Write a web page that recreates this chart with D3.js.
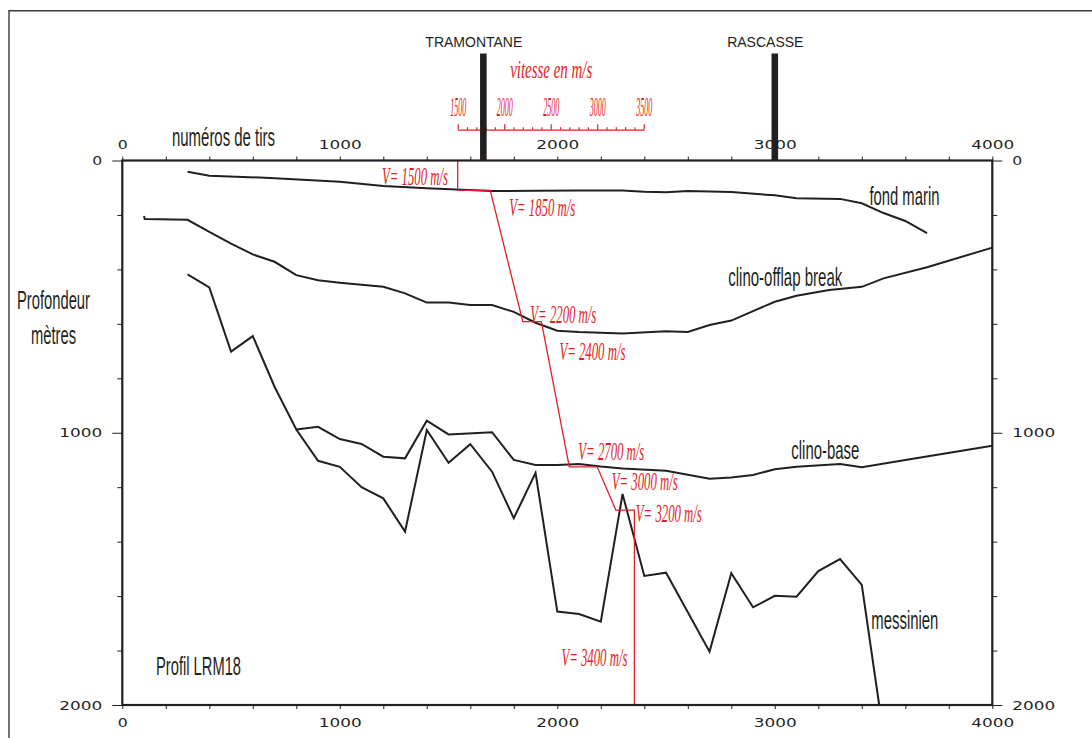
<!DOCTYPE html>
<html>
<head>
<meta charset="utf-8">
<script src="https://cdn.jsdelivr.net/npm/d3@7"></script>
<style>
  body { margin: 0; background: #fff; }
  svg { display: block; }
</style>
</head>
<body>
<svg id="chart" width="1092" height="738"></svg>
<script>
// ---- Axis ticks ----
const shotTicks = d3.range(0, 4001, 200);
const shotLabels = [0, 1000, 2000, 3000, 4000];
const depthTicks = d3.range(0, 2001, 200);
const depthLabels = [0, 1000, 2000];
const velTicks = d3.range(1500, 3501, 100);
const velLabels = [1500, 2000, 2500, 3000, 3500];

// ---- Horizons picked along the profile: [shot number, depth (m)] ----
const fondMarin = [[300,41],[400,56],[680,64],[1000,78],[1200,94],[1400,102],[1700,112],[1900,111],[2100,110],[2300,110],[2400,115],[2500,117],[2600,112],[2800,116],[3000,128],[3100,139],[3300,141],[3400,157],[3500,193],[3600,222],[3700,267]];
const clinoOfflap = [[100,204],[103,215],[300,218],[400,262],[500,305],[600,345],[700,372],[800,421],[900,440],[1000,449],[1200,464],[1300,488],[1400,522],[1500,522],[1600,531],[1700,531],[1800,556],[1900,596],[2000,625],[2100,630],[2300,635],[2500,627],[2600,630],[2700,604],[2800,588],[2900,553],[3000,519],[3100,497],[3250,476],[3400,464],[3500,433],[3700,392],[4000,320]];
const clinoBase = [[800,988],[900,978],[1000,1023],[1100,1041],[1200,1088],[1300,1094],[1400,956],[1500,1006],[1700,998],[1800,1100],[1900,1118],[2000,1118],[2100,1115],[2200,1124],[2300,1131],[2500,1140],[2700,1169],[2800,1164],[2900,1155],[3000,1134],[3100,1125],[3300,1115],[3400,1127],[3600,1100],[4000,1048]];
const messinien = [[300,418],[400,466],[500,702],[600,645],[700,831],[800,988],[900,1103],[1000,1125],[1100,1200],[1200,1241],[1300,1363],[1400,990],[1500,1110],[1600,1042],[1700,1143],[1800,1314],[1900,1147],[2000,1657],[2100,1666],[2200,1694],[2300,1225],[2400,1526],[2500,1514],[2700,1804],[2800,1516],[2900,1641],[3000,1599],[3100,1602],[3200,1508],[3300,1464],[3400,1559],[3480,2000]];

// ---- Interval velocity model: [velocity (m/s), depth (m)] ----
const velProfile = [[1500,0],[1500,110],[1850,110],[2200,592],[2400,592],[2700,1125],[3000,1125],[3200,1284],[3400,1284],[3400,2000]];
const velLayers = [1500, 1850, 2200, 2400, 2700, 3000, 3200, 3400];

// ---- Wells along the line ----
const wellNames = ["TRAMONTANE", "RASCASSE"];
const wellShots = [1660, 3000];

// ---- Horizon names ----
const horizonNames = ["fond marin", "clino-offlap break", "clino-base", "messinien"];

// ---------------- layout ----------------
const W = 1092, H = 738;
const plot = { left: 122.3, right: 992.3, top: 160.5, bottom: 705 };
const velAxis = { left: 457.7, right: 643.7, y: 129.7 };
const RED = "#e31e26", INK = "#231f20";
const SANS = "'Liberation Sans Narrow', 'Liberation Sans', Arial, sans-serif";
const SERIF = "'Liberation Serif', 'Times New Roman', serif";
const GEO = "'DejaVu Sans', Verdana, sans-serif";

const svg = d3.select("#chart");
svg.append("rect").attr("width", W).attr("height", H).attr("fill", "#fff");

const x = d3.scaleLinear().domain([0, 4000]).range([plot.left, plot.right]);
const y = d3.scaleLinear().domain([0, 2000]).range([plot.top, plot.bottom]);
const v = d3.scaleLinear().domain([1500, 3500]).range([velAxis.left, velAxis.right]);

// page frame
svg.append("path")
  .attr("d", `M9,${H} V10.7 H${W}`)
  .attr("fill", "none").attr("stroke", "#3a3a3a").attr("stroke-width", 1.4);

// stretch numeric labels to the wide lettering of the figure
function styleNum(sel) {
  sel.attr("font-family", GEO).attr("font-size", 11.5).attr("fill", INK)
    .attr("lengthAdjust", "spacingAndGlyphs")
    .attr("textLength", function () { const t = this.textContent; return t ? t.length * 11 - 1 : null; });
}

// ---- shot-number axes (top and bottom) ----
const fmtShot = d => shotLabels.includes(d) ? d : "";
const gTop = svg.append("g").attr("transform", `translate(0,${plot.top})`)
  .call(d3.axisTop(x).tickValues(shotTicks).tickSize(4).tickSizeOuter(0).tickFormat(fmtShot));
const gBot = svg.append("g").attr("transform", `translate(0,${plot.bottom})`)
  .call(d3.axisBottom(x).tickValues(shotTicks).tickSize(4).tickSizeOuter(0).tickFormat(fmtShot));
[gTop, gBot].forEach(g => {
  g.select(".domain").remove();
  g.selectAll(".tick line").attr("stroke", INK).attr("stroke-width", 1);
});
gTop.selectAll(".tick text").attr("y", -11.5).attr("dy", 0).call(styleNum);
gBot.selectAll(".tick text").attr("y", 22).attr("dy", 0).call(styleNum);

// ---- depth axes (left and right) ----
const fmtDepth = d => depthLabels.includes(d) ? d : "";
const gLeft = svg.append("g").attr("transform", `translate(${plot.left},0)`)
  .call(d3.axisLeft(y).tickValues(depthTicks).tickSize(5).tickSizeOuter(0).tickFormat(fmtDepth));
const gRight = svg.append("g").attr("transform", `translate(${plot.right},0)`)
  .call(d3.axisRight(y).tickValues(depthTicks).tickSize(5).tickSizeOuter(0).tickFormat(fmtDepth));
[gLeft, gRight].forEach((g, i) => {
  g.select(".domain").remove();
  g.selectAll(".tick line").attr("stroke", INK).attr("stroke-width", 1)
    .attr("x2", d => (depthLabels.includes(d) ? 10 : 5) * (i === 0 ? -1 : 1));
});
gLeft.selectAll(".tick text").attr("x", -20).attr("dy", "0.36em").call(styleNum);
gRight.selectAll(".tick text").attr("x", 20).attr("dy", "0.36em").call(styleNum);

// ---- horizons ----
const line = d3.line().x(d => x(d[0])).y(d => y(d[1]));
const gHor = svg.append("g").attr("fill", "none").attr("stroke", INK)
  .attr("stroke-width", 2).attr("stroke-linejoin", "miter");
[fondMarin, clinoOfflap, clinoBase, messinien].forEach(h =>
  gHor.append("path").attr("d", line(h)));

// horizon names, placed at [shot, depth] of their baseline start
const horizonLabelPos = [
  { at: [3435, 164], len: 70 },
  { at: [2786, 461], len: 114 },
  { at: [3076, 1098], len: 68 },
  { at: [3444, 1722], len: 67 }
];
svg.append("g").selectAll("text").data(horizonNames).join("text")
  .attr("x", (d, i) => x(horizonLabelPos[i].at[0]))
  .attr("y", (d, i) => y(horizonLabelPos[i].at[1]))
  .attr("font-family", SANS).attr("font-size", 26).attr("fill", INK)
  .attr("lengthAdjust", "spacingAndGlyphs")
  .attr("textLength", (d, i) => horizonLabelPos[i].len)
  .text(d => d);

// ---- velocity model ----
const vline = d3.line().x(d => v(d[0])).y(d => y(d[1]));
svg.append("path").attr("d", vline(velProfile))
  .attr("fill", "none").attr("stroke", RED).attr("stroke-width", 1.3);

// interval velocity labels: horizontal offset from the layer velocity, baseline depth
const velLabelPos = [
  { dx: -9.7, depth: 90, anchor: "end" },
  { dx: 19, depth: 204, anchor: "start" },
  { dx: 7.5, depth: 596, anchor: "start" },
  { dx: 18, depth: 733, anchor: "start" },
  { dx: 9, depth: 1100, anchor: "start" },
  { dx: 14.5, depth: 1210, anchor: "start" },
  { dx: 20, depth: 1327, anchor: "start" },
  { dx: -7, depth: 1857, anchor: "end" }
];
svg.append("g").selectAll("text").data(velLayers).join("text")
  .attr("x", (d, i) => v(d) + velLabelPos[i].dx)
  .attr("y", (d, i) => y(velLabelPos[i].depth))
  .attr("text-anchor", (d, i) => velLabelPos[i].anchor)
  .attr("font-family", SERIF).attr("font-style", "italic").attr("font-size", 25)
  .attr("fill", RED)
  .attr("lengthAdjust", "spacingAndGlyphs").attr("textLength", 66)
  .text(d => `V= ${d} m/s`);

// velocity scale above the section
const gVel = svg.append("g").attr("transform", `translate(0,${velAxis.y})`)
  .call(d3.axisTop(v).tickValues(velTicks).tickSize(2.5).tickSizeOuter(0)
    .tickFormat(d => velLabels.includes(d) ? d : ""));
gVel.select(".domain").attr("stroke", RED).attr("stroke-width", 1.3);
gVel.selectAll(".tick line").attr("stroke", RED).attr("stroke-width", 1.2)
  .attr("y2", d => velLabels.includes(d) ? -5.5 : -2.5);
gVel.selectAll(".tick text").attr("y", -13.5).attr("dy", 0)
  .attr("font-family", SERIF).attr("font-style", "italic").attr("font-size", 28)
  .attr("fill", RED).attr("lengthAdjust", "spacingAndGlyphs")
  .attr("textLength", function () { return this.textContent ? 16 : null; });

svg.append("text").attr("x", (velAxis.left + velAxis.right) / 2 + 0.5).attr("y", 78.3)
  .attr("text-anchor", "middle")
  .attr("font-family", SERIF).attr("font-style", "italic").attr("font-size", 25)
  .attr("fill", RED).attr("lengthAdjust", "spacingAndGlyphs").attr("textLength", 82)
  .text("vitesse en m/s");

// ---- wells ----
const gWell = svg.append("g");
gWell.selectAll("rect").data(wellShots).join("rect")
  .attr("x", d => x(d) - 3.3).attr("width", 6.6)
  .attr("y", 53.5).attr("height", plot.top - 53.5)
  .attr("fill", INK);
gWell.selectAll("text").data(wellNames).join("text")
  .attr("x", (d, i) => x(wellShots[i]) - 9.5)
  .attr("y", 47.3)
  .attr("text-anchor", "middle")
  .attr("font-family", "'Liberation Sans', Arial, sans-serif").attr("font-size", 14)
  .attr("fill", INK)
  .text(d => d);

// ---- section frame ----
svg.append("rect")
  .attr("x", plot.left).attr("y", plot.top)
  .attr("width", plot.right - plot.left).attr("height", plot.bottom - plot.top)
  .attr("fill", "none").attr("stroke", INK).attr("stroke-width", 2.2);

// ---- titles ----
const titles = [
  { t: "numéros de tirs", x: 172, y: 145.5, len: 103 },
  { t: "Profondeur", x: 17, y: 309, len: 73 },
  { t: "mètres", x: 31, y: 344, len: 45 },
  { t: "Profil LRM18", x: 156, y: 675, len: 85 }
];
svg.append("g").selectAll("text").data(titles).join("text")
  .attr("x", d => d.x).attr("y", d => d.y)
  .attr("font-family", SANS).attr("font-size", 26).attr("fill", INK)
  .attr("lengthAdjust", "spacingAndGlyphs").attr("textLength", d => d.len)
  .text(d => d.t);
</script>
</body>
</html>
